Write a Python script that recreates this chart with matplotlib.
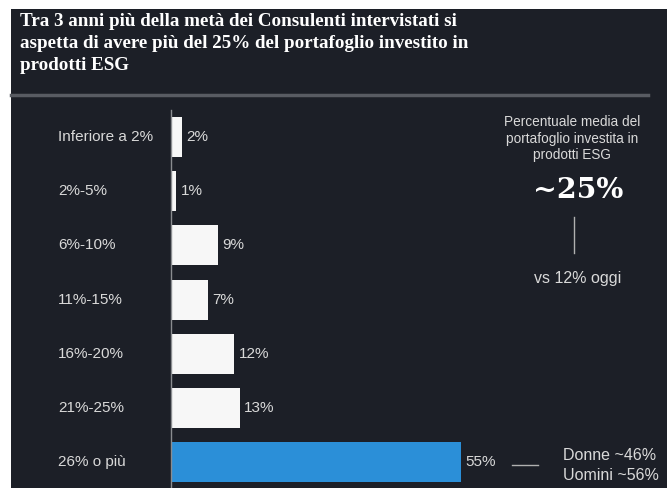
import matplotlib
matplotlib.use("Agg")
import matplotlib.pyplot as plt
from matplotlib.transforms import blended_transform_factory

# data
categories = ["Inferiore a 2%", "2%-5%", "6%-10%", "11%-15%", "16%-20%", "21%-25%", "26% o più"]
values = [2, 1, 9, 7, 12, 13, 55]
title_lines = ["Tra 3 anni più della metà dei Consulenti intervistati si",
               "aspetta di avere più del 25% del portafoglio investito in",
               "prodotti ESG"]
side_note = ["Percentuale media del", "portafoglio investita in", "prodotti ESG"]
avg_label = "~25%"
today_label = "vs 12% oggi"
gender_labels = ["Donne ~46%", "Uomini ~56%"]

W, H = 667, 488
BG = "#1c1f27"
TXT = "#d9d9d9"
BLUE = "#2b8fd8"
SANS = "Liberation Sans"

def fx(px):
    return px / W

def fy(py):
    return 1 - py / H

fig = plt.figure(figsize=(W / 100, H / 100), dpi=100, facecolor="white")

# dark panel
panel = fig.add_axes([fx(11), 0, 1 - fx(11), fy(9)])
panel.set_facecolor(BG)
panel.set_xticks([])
panel.set_yticks([])
for s in panel.spines.values():
    s.set_visible(False)

# title
for i, line in enumerate(title_lines):
    fig.text(fx(20), fy(21 + 22 * i), line, color="white", fontsize=13.7,
             fontweight="bold", family="Liberation Serif", va="center", ha="left")

# separator
fig.add_artist(plt.Line2D([fx(11), fx(648)], [fy(95), fy(95)], color="#585b62", lw=2.5))

# bars
ax = fig.add_axes([fx(171), 0, fx(461) - fx(171), fy(110)])
ax.set_facecolor("none")
colors = ["#f7f7f7"] * (len(values) - 1) + [BLUE]
ypos = list(range(len(categories)))
ax.barh(ypos, values, height=0.74, color=colors, edgecolor="none")
ax.set_xlim(0, 55)
ax.set_ylim(6.48, -0.5)
ax.set_xticks([])
ax.set_yticks([])
for s in ["top", "right", "bottom"]:
    ax.spines[s].set_visible(False)
ax.spines["left"].set_color("#8a8c90")
ax.spines["left"].set_linewidth(1.0)

label_tr = blended_transform_factory(fig.transFigure, ax.transData)
for y, v, c in zip(ypos, values, categories):
    ax.text(v + 0.8, y, f"{v}%", color=TXT, fontsize=11, va="center", ha="left",
            family=SANS)
    ax.text(fx(58), y, c, color=TXT, fontsize=11, va="center", ha="left",
            family=SANS, transform=label_tr)

# right-hand note
for i, line in enumerate(side_note):
    fig.text(fx(572), fy(122 + 16.5 * i), line, color=TXT, fontsize=9.8,
             ha="center", va="center", family=SANS)
fig.text(fx(578), fy(191), avg_label, color="white", fontsize=20.5, fontweight="bold",
         family="DejaVu Serif", ha="center", va="center")
fig.add_artist(plt.Line2D([fx(574), fx(574)], [fy(217), fy(253)], color="#b0b0b0", lw=1))
fig.text(fx(578), fy(279), today_label, color=TXT, fontsize=11.5, ha="center", va="center",
         family=SANS)

# gender split
fig.add_artist(plt.Line2D([fx(512), fx(538)], [fy(465), fy(465)], color="#b0b0b0", lw=1))
for i, line in enumerate(gender_labels):
    fig.text(fx(563), fy(456 + 19 * i), line, color=TXT, fontsize=11.5, ha="left",
             va="center", family=SANS)

fig.savefig("out.png", dpi=100, facecolor="white")
